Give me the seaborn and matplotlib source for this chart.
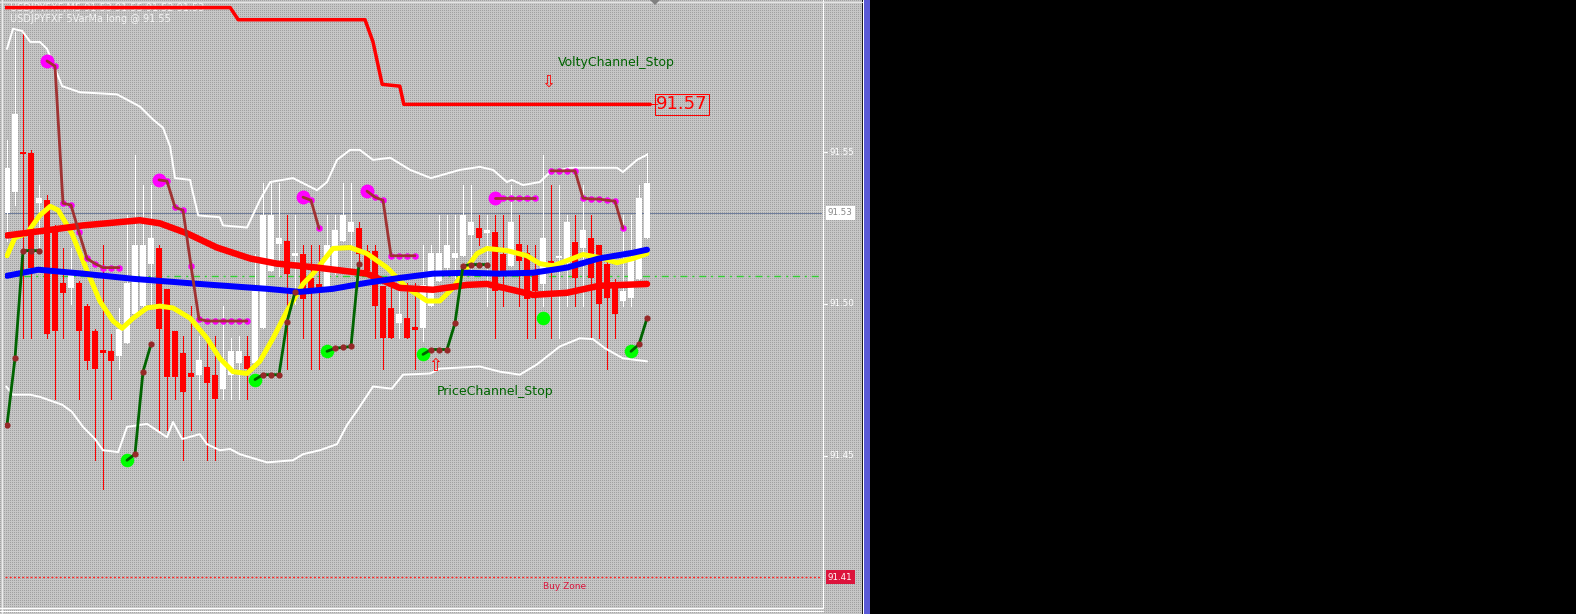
import numpy as np
import matplotlib
matplotlib.use("Agg")
import matplotlib.pyplot as plt
import matplotlib.transforms as mtransforms
from matplotlib.patches import Rectangle, Polygon
from matplotlib.lines import Line2D
import seaborn as sns

# ---------------- data ----------------
opens = [91.5299, 91.5369, 91.5498, 91.5498, 91.5332, 91.5342, 91.5252, 91.5070, 91.5053, 91.5070,
         91.4993, 91.4910, 91.4850, 91.4844, 91.4827, 91.4870, 91.4967, 91.4993, 91.5133, 91.5183,
         91.5050, 91.4910, 91.4837, 91.4771, 91.4767, 91.4794, 91.4767, 91.4721, 91.4767, 91.4804,
         91.4827, 91.4804, 91.4920, 91.5110, 91.5199, 91.5209, 91.5159, 91.5166, 91.5086, 91.5066,
         91.5053, 91.5120, 91.5209, 91.5236, 91.5252, 91.5176, 91.5176, 91.5060, 91.4987, 91.4937,
         91.4953, 91.4924, 91.4920, 91.4993, 91.5076, 91.5120, 91.5153, 91.5159, 91.5226, 91.5249,
         91.5233, 91.5236, 91.5166, 91.5126, 91.5199, 91.5169, 91.5110, 91.5066, 91.5140, 91.5150,
         91.5136, 91.5203, 91.5186, 91.5219, 91.5193, 91.5133, 91.5070, 91.5010, 91.5020, 91.5083,
         91.5216]
highs = [91.5542, 91.5897, 91.5900, 91.5508, 91.5392, 91.5359, 91.5259, 91.5186, 91.5186, 91.5076,
         91.5000, 91.4917, 91.5193, 91.4900, 91.4987, 91.5292, 91.5492, 91.5392, 91.5392, 91.5193,
         91.5050, 91.4910, 91.4894, 91.4993, 91.4894, 91.4894, 91.4894, 91.4993, 91.4887, 91.4894,
         91.4894, 91.5166, 91.5399, 91.5399, 91.5399, 91.5292, 91.5292, 91.5193, 91.5193, 91.5193,
         91.5292, 91.5292, 91.5399, 91.5399, 91.5269, 91.5193, 91.5193, 91.5060, 91.5093, 91.5093,
         91.5070, 91.5070, 91.5193, 91.5193, 91.5292, 91.5292, 91.5292, 91.5392, 91.5392, 91.5292,
         91.5292, 91.5292, 91.5292, 91.5392, 91.5292, 91.5193, 91.5193, 91.5492, 91.5392, 91.5392,
         91.5292, 91.5292, 91.5392, 91.5292, 91.5193, 91.5153, 91.5083, 91.5292, 91.5292, 91.5392,
         91.5498]
lows = [91.5209, 91.5326, 91.4887, 91.4887, 91.5176, 91.4887, 91.4688, 91.4887, 91.5000, 91.4688,
        91.4787, 91.4485, 91.4389, 91.4688, 91.4787, 91.4870, 91.4967, 91.4993, 91.4993, 91.4585,
        91.4585, 91.4688, 91.4485, 91.4585, 91.4688, 91.4485, 91.4485, 91.4688, 91.4688, 91.4688,
        91.4688, 91.4804, 91.4920, 91.5110, 91.5093, 91.4787, 91.5000, 91.4887, 91.4787, 91.4787,
        91.5053, 91.5100, 91.5209, 91.5116, 91.5120, 91.5093, 91.4887, 91.4787, 91.4887, 91.4887,
        91.4887, 91.4787, 91.4877, 91.4993, 91.5076, 91.5110, 91.5086, 91.5159, 91.5110, 91.5193,
        91.4993, 91.4887, 91.4993, 91.5126, 91.4993, 91.4887, 91.4887, 91.4993, 91.4887, 91.4887,
        91.4993, 91.4993, 91.4993, 91.4887, 91.4887, 91.4787, 91.4887, 91.4993, 91.4993, 91.5083,
        91.5216]
closes = [91.5449, 91.5625, 91.5495, 91.5120, 91.5349, 91.4900, 91.4910, 91.5037, 91.5100, 91.4910,
          91.4811, 91.4787, 91.4837, 91.4811, 91.4917, 91.5070, 91.5193, 91.5193, 91.5219, 91.4917,
          91.4761, 91.4761, 91.4711, 91.4761, 91.4817, 91.4738, 91.4688, 91.4817, 91.4844, 91.4844,
          91.4787, 91.5043, 91.5292, 91.5292, 91.5219, 91.5100, 91.5169, 91.5017, 91.5043, 91.5050,
          91.5193, 91.5243, 91.5292, 91.5269, 91.5166, 91.5110, 91.4993, 91.4887, 91.4887, 91.4967,
          91.4887, 91.4914, 91.5063, 91.5169, 91.5169, 91.5193, 91.5169, 91.5292, 91.5269, 91.5216,
          91.5243, 91.5043, 91.5103, 91.5269, 91.5143, 91.5017, 91.5043, 91.5219, 91.5136, 91.5159,
          91.5269, 91.5086, 91.5243, 91.5086, 91.5000, 91.5020, 91.4967, 91.5043, 91.5153, 91.5349,
          91.5399]

slow_ma_x = [0, 5, 9.5, 16.6, 19.1, 22.5, 26.25, 30.4, 33.75, 38.75, 45, 49.1, 53.25, 57.5, 60, 63.75, 65.75, 70, 74, 80]
slow_ma_y = [91.5226, 91.5243, 91.5259, 91.5276, 91.5266, 91.5233, 91.5186, 91.5150, 91.5133, 91.5120,
             91.5100, 91.5053, 91.5047, 91.5063, 91.5066, 91.5043, 91.5030, 91.5037, 91.5060, 91.5066]

mid_ma_x = [0, 3.9, 9.5, 15.75, 24.1, 32.5, 36.6, 40.75, 45, 49.1, 53.25, 57.5, 61.6, 65.75, 70, 74, 78.25, 80]
mid_ma_y = [91.5093, 91.5113, 91.5100, 91.5083, 91.5066, 91.5050, 91.5040, 91.5050, 91.5070, 91.5086,
            91.5100, 91.5103, 91.5100, 91.5103, 91.5120, 91.5150, 91.5169, 91.5179]

fast_ma_x = [0, 1, 2.5, 4.1, 5.4, 6.4, 8.1, 10, 11.6, 13.25, 14.4, 15.75, 17.5, 19.1, 20.75, 22.9, 25,
             26.6, 28.25, 30, 31.6, 33.25, 35, 37, 38.25, 40.75, 42.9, 45, 47.5, 50, 52.5, 54.1, 55.75,
             57.5, 58.75, 60, 62.5, 65, 66.6, 68.25, 70, 72, 74.1, 76.25, 78.25, 80]
fast_ma_y = [91.5159, 91.5219, 91.5233, 91.5292, 91.5322, 91.5309, 91.5233, 91.5110, 91.5010, 91.4944,
             91.4920, 91.4953, 91.4987, 91.4993, 91.4987, 91.4953, 91.4887, 91.4821, 91.4777, 91.4771,
             91.4811, 91.4887, 91.4977, 91.5066, 91.5100, 91.5183, 91.5186, 91.5166, 91.5120, 91.5053,
             91.5010, 91.5010, 91.5053, 91.5120, 91.5166, 91.5183, 91.5176, 91.5159, 91.5133, 91.5126,
             91.5143, 91.5163, 91.5153, 91.5136, 91.5150, 91.5166]

band_up_x = [0, 0.75, 1.9, 2.9, 4.1, 5, 6.9, 9.1, 13.75, 16.6, 18.25, 19.5, 20.4, 21, 22.9, 23.1, 23.9,
             26.6, 27, 30, 31.6, 32.9, 35.75, 38.75, 40, 41.25, 42.9, 44.1, 45.75, 47.9, 50.4, 53, 56.6,
             59.1, 60.75, 62.5, 63.1, 64.5, 66.6, 67.9, 70.4, 76.25, 77, 78.75, 80]
band_up_y = [91.5841, 91.5907, 91.5900, 91.5864, 91.5864, 91.5841, 91.5718, 91.5698, 91.5691, 91.5651,
             91.5608, 91.5581, 91.5518, 91.5415, 91.5409, 91.5382, 91.5292, 91.5286, 91.5259, 91.5252,
             91.5342, 91.5402, 91.5415, 91.5375, 91.5402, 91.5475, 91.5508, 91.5508, 91.5475, 91.5482,
             91.5442, 91.5415, 91.5442, 91.5452, 91.5442, 91.5402, 91.5409, 91.5392, 91.5402, 91.5435,
             91.5449, 91.5449, 91.5435, 91.5475, 91.5492]

band_lo_x = [-0.1, 0.75, 2.9, 4.1, 6.9, 8.1, 9.5, 11, 12, 13.9, 15, 17.5, 20, 20.75, 21.9, 24.1, 25,
             26.6, 27.9, 29.1, 32.5, 35.75, 37, 39.1, 41.25, 42.5, 43.9, 45.75, 48.1, 49.5, 52.9, 54.1,
             59.1, 61.6, 64.1, 66.25, 69.1, 71.6, 73.25, 74.75, 77, 80]
band_lo_y = [91.4728, 91.4701, 91.4701, 91.4694, 91.4668, 91.4645, 91.4595, 91.4555, 91.4518, 91.4512,
             91.4595, 91.4605, 91.4561, 91.4611, 91.4555, 91.4571, 91.4538, 91.4518, 91.4522, 91.4505,
             91.4478, 91.4485, 91.4505, 91.4518, 91.4538, 91.4601, 91.4654, 91.4728, 91.4721, 91.4767,
             91.4771, 91.4787, 91.4794, 91.4777, 91.4767, 91.4801, 91.4860, 91.4887, 91.4884, 91.4854,
             91.4821, 91.4811]

volty_x = [-0.25, 27.9, 28.9, 44.75, 45.75, 46.9, 49.1, 49.6, 80.4]
volty_y = [91.5977, 91.5977, 91.5937, 91.5937, 91.5864, 91.5724, 91.5718, 91.5658, 91.5658]
volty_label = "91.57"

# upper (short) price-channel stop segments; first point of a segment carries a big circle
up_stop_x = [[5, 6, 7, 8, 9, 10, 11, 12, 13, 14],
             [19, 20, 21, 22, 23, 24, 25, 26, 27, 28, 29, 30],
             [37, 38, 39],
             [45, 46, 47, 48, 49, 50, 51],
             [61, 62, 63, 64, 65, 66],
             [68, 69, 70, 71, 72, 73, 74, 75, 76, 77]]
up_stop_y = [[91.5801, 91.5784, 91.5332, 91.5326, 91.5236, 91.5150, 91.5133, 91.5120, 91.5120, 91.5120],
             [91.5409, 91.5405, 91.5319, 91.5309, 91.5126, 91.4950, 91.4944, 91.4944, 91.4944, 91.4944, 91.4944, 91.4944],
             [91.5352, 91.5342, 91.5249],
             [91.5372, 91.5352, 91.5342, 91.5159, 91.5159, 91.5159, 91.5159],
             [91.5349, 91.5349, 91.5349, 91.5349, 91.5349, 91.5349],
             [91.5439, 91.5439, 91.5439, 91.5439, 91.5349, 91.5346, 91.5346, 91.5342, 91.5339, 91.5249]]
up_stop_start = [True, True, True, True, True, False]

lo_stop_x = [[0, 1, 2, 3, 4],
             [15, 16, 17, 18],
             [31, 32, 33, 34, 35, 36],
             [40, 41, 42, 43, 44],
             [52, 53, 54, 55, 56, 57, 58, 59, 60],
             [67],
             [78, 79, 80]]
lo_stop_y = [[91.4601, 91.4821, 91.5176, 91.5176, 91.5176],
             [91.4485, 91.4505, 91.4777, 91.4867],
             [91.4751, 91.4767, 91.4767, 91.4767, 91.4940, 91.5040],
             [91.4844, 91.4854, 91.4857, 91.4860, 91.5133],
             [91.4834, 91.4850, 91.4850, 91.4850, 91.4937, 91.5126, 91.5130, 91.5130, 91.5130],
             [91.4953],
             [91.4844, 91.4867, 91.4953]]
lo_stop_start = [False, True, True, True, True, True, True]

axis_ticks = [91.55, 91.50, 91.45]
bid_level = 91.53
green_level = 91.5093
buy_zone = 91.41
title_line1 = "USDJPYFXF,M5 91.53 91.55 91.52 91.53"
title_line2 = "USDJPYFXF 5VarMa long @ 91.55"

# ---------------- figure ----------------
sns.set_theme(style="white")
plt.rcParams['font.family'] = ['DejaVu Sans']
plt.rcParams['lines.scale_dashes'] = False

W, H = 1576, 614
fig = plt.figure(figsize=(W / 100, H / 100), dpi=100, facecolor='black')

# dotted gray chart panel
PW = 862
pat = np.full((H, PW, 3), 198, dtype=np.uint8)
pat[::2, ::2, :] = 160
bg = fig.add_axes([0, 0, PW / W, 1])
bg.imshow(pat, interpolation='nearest', aspect='auto')
bg.set_axis_off()

ax = fig.add_axes([5 / W, 7 / H, 817 / W, 607 / H])
ax.set_zorder(2)
ax.patch.set_visible(False)
ax.set_axis_off()
ax.set_xlim(-0.25, 101.875)
ax.set_ylim(91.50 - 303 / 3034, 91.50 + 304 / 3034)

px = 0.72  # points per pixel

# horizontal levels
ax.axhline(bid_level, color='#6f7d9c', lw=1 * px, zorder=1)
ax.axhline(green_level, color='#32cd32', lw=1.4 * px, ls=(0, (5, 3.5, 1.5, 3.5)), zorder=1)
ax.axhline(buy_zone, color='#ff2a2a', lw=1.4 * px, ls=(0, (1.5, 1.5)), zorder=1)

# candles
o = np.array(opens); h = np.array(highs); l = np.array(lows); c = np.array(closes)
idx = np.arange(len(o))
cols = np.where(c >= o, '#ffffff', '#ff0000')
ax.vlines(idx, l, h, colors=cols, lw=1.0 * px, zorder=2, antialiased=False)
bottoms = np.minimum(o, c)
heights = np.maximum(np.abs(c - o), 0.0005)
ax.bar(idx, heights, bottom=bottoms, width=0.64, color=cols, linewidth=0, zorder=3, antialiased=False)

# bands and moving averages
sns.lineplot(x=band_up_x, y=band_up_y, ax=ax, color='white', lw=2 * px, estimator=None, sort=False, zorder=4)
sns.lineplot(x=band_lo_x, y=band_lo_y, ax=ax, color='white', lw=2 * px, estimator=None, sort=False, zorder=4)
sns.lineplot(x=fast_ma_x, y=fast_ma_y, ax=ax, color='#ffff00', lw=5 * px, estimator=None, sort=False, zorder=5)
sns.lineplot(x=slow_ma_x, y=slow_ma_y, ax=ax, color='#ff0000', lw=6.5 * px, estimator=None, sort=False, zorder=6)
sns.lineplot(x=mid_ma_x, y=mid_ma_y, ax=ax, color='#0000ff', lw=6 * px, estimator=None, sort=False, zorder=7)

# volty channel stop
sns.lineplot(x=volty_x, y=volty_y, ax=ax, color='#ff0000', lw=3.5 * px, estimator=None, sort=False, zorder=8)
lx0 = (657 - 7) / 8
ax.plot([volty_x[-1], lx0], [volty_y[-1], volty_y[-1]], color='#ff0000', lw=1 * px, zorder=8)
ax.text((682 - 7) / 8, volty_y[-1], volty_label, color='#ff0000', fontsize=13, ha='center', va='center',
        zorder=9, bbox=dict(boxstyle='square,pad=0.08', fc='none', ec='#ff0000', lw=1 * px))

# upper stops
for xs, ys, st in zip(up_stop_x, up_stop_y, up_stop_start):
    sns.scatterplot(x=xs, y=ys, ax=ax, color='#ff00ff', s=22, linewidth=0, zorder=9)
    if st:
        sns.scatterplot(x=xs[:1], y=ys[:1], ax=ax, color='#ff00ff', s=100, linewidth=0, zorder=9)
    if len(xs) > 1:
        sns.lineplot(x=xs, y=ys, ax=ax, color='#a03232', lw=2.8 * px, estimator=None, sort=False, zorder=10)

# lower stops
for xs, ys, st in zip(lo_stop_x, lo_stop_y, lo_stop_start):
    if st:
        sns.scatterplot(x=xs[:1], y=ys[:1], ax=ax, color='#00ff00', s=95, linewidth=0, zorder=9)
    if len(xs) > 1:
        sns.lineplot(x=xs, y=ys, ax=ax, color='#006400', lw=2.8 * px, estimator=None, sort=False, zorder=10)
        sns.scatterplot(x=xs[1:] if st else xs, y=ys[1:] if st else ys, ax=ax, color='#962828',
                        s=20, linewidth=0, zorder=11)

# texts on chart
ax.text((558 - 7) / 8, 91.5795, "VoltyChannel_Stop", color='#006400', fontsize=9, ha='left', va='center', zorder=12)
ax.text((548 - 7) / 8, 91.5733, "\u21e9", color='#ff0000', fontsize=12, ha='center', va='center', zorder=12)
ax.text((437 - 7) / 8, 91.4710, "PriceChannel_Stop", color='#006400', fontsize=9, ha='left', va='center', zorder=12)
ax.text((435 - 7) / 8, 91.4795, "\u21e7", color='#ff0000', fontsize=12, ha='center', va='center', zorder=12)
ax.text((565 - 7) / 8, buy_zone - 0.0030, "Buy Zone", color='#dc143c', fontsize=6.5, ha='center', va='center', zorder=12)

# title texts (first line partly hidden by the red stop line)
fig.text(10 / W, 1 - 8 / H, title_line1, color='#f4f4f4', fontsize=7, ha='left', va='center', zorder=1)
fig.text(10 / W, 1 - 19 / H, title_line2, color='#f4f4f4', fontsize=7, ha='left', va='center', zorder=5)

# price scale
tr = mtransforms.blended_transform_factory(fig.transFigure, ax.transData)
for v in axis_ticks:
    ax.plot([824 / W, 827 / W], [v, v], color='white', lw=1 * px, transform=tr, clip_on=False, zorder=12)
    ax.text(829 / W, v, f"{v:.2f}", color='white', fontsize=6.3, ha='left', va='center',
            transform=tr, clip_on=False, zorder=12)
ax.text(828 / W, bid_level, f"{bid_level:.2f}", color='#888888', fontsize=6.3, ha='left', va='center',
        transform=tr, clip_on=False, zorder=12,
        bbox=dict(boxstyle='square,pad=0.25', fc='white', ec='white', lw=0))
ax.text(828 / W, buy_zone, f"{buy_zone:.2f}", color='white', fontsize=6.3, ha='left', va='center',
        transform=tr, clip_on=False, zorder=12,
        bbox=dict(boxstyle='square,pad=0.25', fc='#dc143c', ec='#dc143c', lw=0))

# frame lines
def fline(x0, y0, x1, y1, color, lw):
    fig.add_artist(Line2D([x0 / W, x1 / W], [1 - y0 / H, 1 - y1 / H], color=color, lw=lw * px, zorder=20))

fline(823, 0, 823, 608, 'white', 1.2)
fline(863, 0, 863, 614, 'white', 1.2)
fline(0, 1.5, 862, 1.5, '#e4e4e4', 1.2)
fline(2, 0, 2, 614, '#ececec', 1.2)
fline(0, 608, 823, 608, 'white', 1.2)
fline(0, 611, 823, 611, 'white', 1.2)
fig.add_artist(Rectangle((864 / W, 0), 6 / W, 1, transform=fig.transFigure, fc='#5a5ad6', ec='none', zorder=20))
fig.add_artist(Polygon([[650 / W, 1 - 0 / H], [660 / W, 1 - 0 / H], [655 / W, 1 - 5 / H]],
                       closed=True, transform=fig.transFigure, fc='#808080', ec='none', zorder=20))

fig.savefig('out.png', dpi=100, facecolor='black')
